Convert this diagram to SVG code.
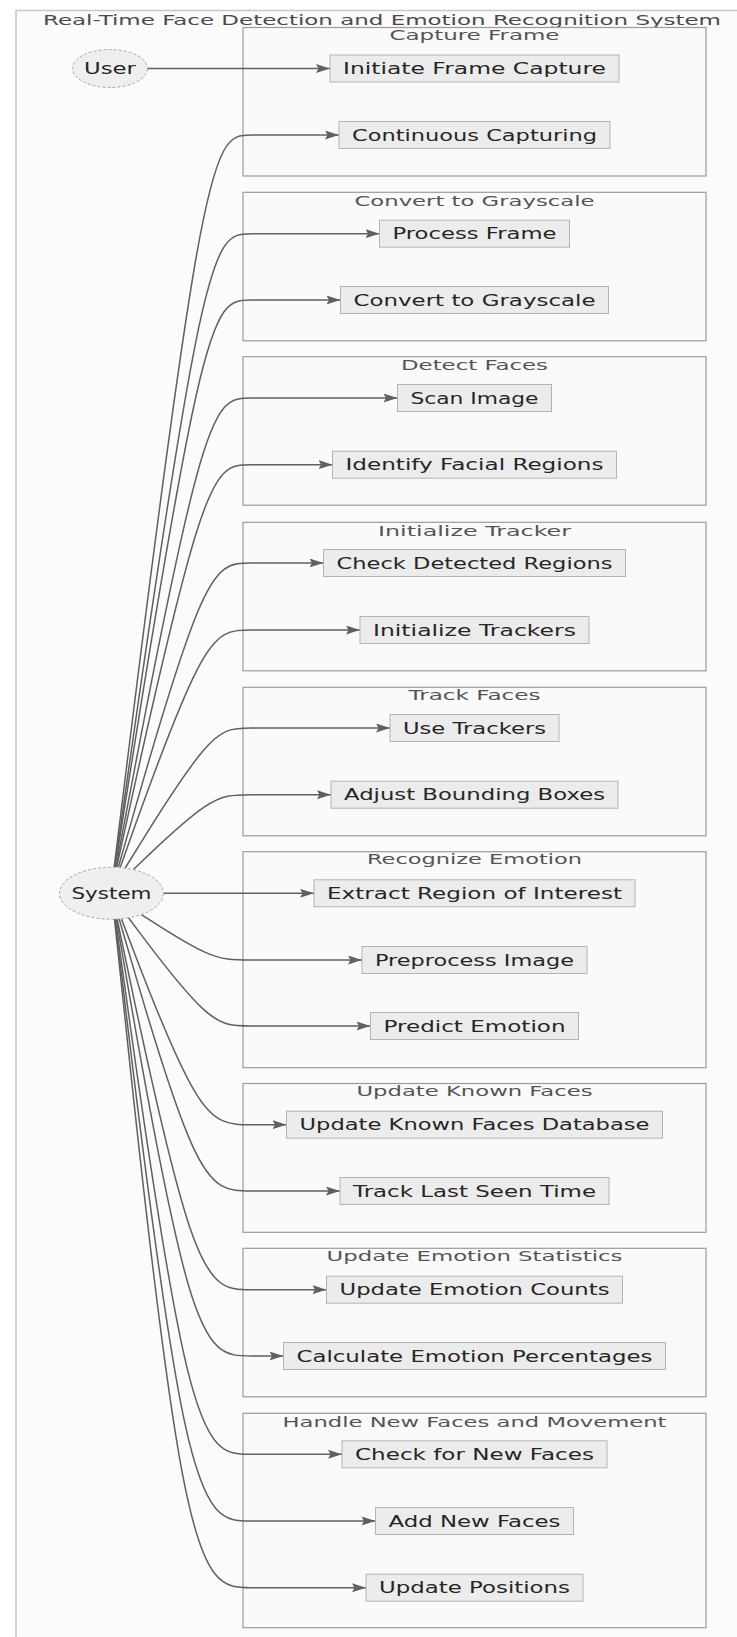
<svg xmlns="http://www.w3.org/2000/svg" width="737" height="1637" viewBox="0 0 737 1637">
  <defs>
    <marker id="arrow" markerUnits="userSpaceOnUse" markerWidth="15" markerHeight="10" refX="14" refY="4.5" orient="auto">
      <path d="M0,0 L14,4.5 L0,9 L2.5,4.5 z" fill="#606060"/>
    </marker>
    <style>
      text { font-family: "DejaVu Sans", "Liberation Sans", sans-serif; text-anchor: middle; }
      .frame { fill: #fbfbfb; stroke: #c8c8c8; stroke-width: 1.5; }
      .title { font-size: 14px; fill: #4a4a4a; }
      .cluster rect { fill: #fafafa; stroke: #9c9c9c; stroke-width: 1.2; }
      .cluster text { font-size: 14px; fill: #555; }
      .node rect { fill: #ececec; stroke: #b4b4b4; stroke-width: 1; }
      .node ellipse { fill: #efefef; stroke: #a8a8a8; stroke-width: 1; stroke-dasharray: 3 2; }
      .node text { font-size: 15px; fill: #262626; }
      .edges path { fill: none; stroke: #606060; stroke-width: 1.5; marker-end: url(#arrow); }
    </style>
  </defs>

  <rect width="737" height="1637" fill="#ffffff"/>

  <!-- outer system boundary -->
  <g id="system-boundary">
    <rect class="frame" x="16" y="10.5" width="740" height="1640"/>
    <text class="title" x="382" y="25.1" textLength="678" lengthAdjust="spacingAndGlyphs">Real-Time Face Detection and Emotion Recognition System</text>
  </g>

  <!-- subgraphs -->
  <g id="cluster-capture" class="cluster">
    <rect x="243" y="27.5" width="463" height="148.5"/>
    <text x="474.5" y="40.1" textLength="170" lengthAdjust="spacingAndGlyphs">Capture Frame</text>
  </g>
  <g id="cluster-grayscale" class="cluster">
    <rect x="243" y="192.3" width="463" height="148.5"/>
    <text x="474.5" y="205.8" textLength="240" lengthAdjust="spacingAndGlyphs">Convert to Grayscale</text>
  </g>
  <g id="cluster-detect" class="cluster">
    <rect x="243" y="356.7" width="463" height="148.5"/>
    <text x="474.5" y="370.1" textLength="147" lengthAdjust="spacingAndGlyphs">Detect Faces</text>
  </g>
  <g id="cluster-init" class="cluster">
    <rect x="243" y="522.3" width="463" height="148.5"/>
    <text x="474.5" y="535.8" textLength="193" lengthAdjust="spacingAndGlyphs">Initialize Tracker</text>
  </g>
  <g id="cluster-track" class="cluster">
    <rect x="243" y="687.3" width="463" height="148.5"/>
    <text x="474.5" y="700.1" textLength="132" lengthAdjust="spacingAndGlyphs">Track Faces</text>
  </g>
  <g id="cluster-emotion" class="cluster">
    <rect x="243" y="851.7" width="463" height="216"/>
    <text x="474.5" y="864.4" textLength="215" lengthAdjust="spacingAndGlyphs">Recognize Emotion</text>
  </g>
  <g id="cluster-known" class="cluster">
    <rect x="243" y="1083.5" width="463" height="148.8"/>
    <text x="474.5" y="1095.8" textLength="236" lengthAdjust="spacingAndGlyphs">Update Known Faces</text>
  </g>
  <g id="cluster-stats" class="cluster">
    <rect x="243" y="1248.3" width="463" height="148.5"/>
    <text x="474.5" y="1261.1" textLength="296" lengthAdjust="spacingAndGlyphs">Update Emotion Statistics</text>
  </g>
  <g id="cluster-new" class="cluster">
    <rect x="243" y="1413.3" width="463" height="214.4"/>
    <text x="474.5" y="1426.8" textLength="384" lengthAdjust="spacingAndGlyphs">Handle New Faces and Movement</text>
  </g>

  <!-- connectors -->
  <g id="edges" class="edges">
    <path d="M147.5,68.5 L330,68.5"/>
    <path d="M114.2,867 L129.3,745 C144.5,623 174.7,379 196.2,257 C217.7,135 230.3,135 252,135 L339,135"/>
    <path d="M114.7,867.1 L129.8,761.5 C144.8,656 174.9,444.8 196.3,339.3 C217.7,233.7 230.3,233.7 252,233.7 L379.5,233.7"/>
    <path d="M115.1,867.1 L130.1,772.6 C145.1,678.1 175,489 196.4,394.5 C217.7,300 230.3,300 252,300 L340.5,300"/>
    <path d="M115.9,867.1 L130.8,788.9 C145.6,710.7 175.3,554.4 196.5,476.2 C217.7,398 230.3,398 252,398 L397.5,398"/>
    <path d="M116.7,867.2 L131.4,800.1 C146.1,733 175.6,598.9 196.6,531.8 C217.7,464.7 230.3,464.7 252,464.7 L332.5,464.7"/>
    <path d="M118.3,867.3 L132.8,816.6 C147.2,765.9 176.1,664.4 196.9,613.7 C217.7,563 230.3,563 252,563 L323.5,563"/>
    <path d="M120.2,867.4 L134.3,827.8 C148.5,788.3 176.7,709.1 197.2,669.6 C217.7,630 230.3,630 252,630 L360,630"/>
    <path d="M125.2,868 L139.7,844.7 C154.1,821.3 183.1,774.7 202.7,751.3 C222.3,728 232.7,728 252,728 L390,728"/>
    <path d="M133.4,869.5 L146.5,857 C159.6,844.6 185.8,819.6 204.1,807.2 C222.3,794.7 232.7,794.7 252,794.7 L331,794.7"/>
    <path d="M163.5,893.3 L314,893.3"/>
    <path d="M140.9,914.3 L152.8,921.9 C164.6,929.5 188.3,944.8 205.3,952.4 C222.3,960 232.7,960 252,960 L362,960"/>
    <path d="M128.3,917.5 L141.9,935.6 C155.5,953.7 182.8,989.8 201.9,1007.9 C221,1026 232,1026 252,1026 L370.5,1026"/>
    <path d="M121.3,918.5 L134.4,952.9 C147.5,987.2 173.8,1056 194.1,1090.3 C214.3,1124.7 228.7,1124.7 252,1124.7 L286.5,1124.7"/>
    <path d="M119.1,918.7 L132.3,964.1 C145.4,1009.5 171.7,1100.2 192.4,1145.6 C213,1191 228,1191 252,1191 L340,1191"/>
    <path d="M117.1,918.8 L130.1,980.6 C143.1,1042.4 169,1166.1 190,1227.9 C211,1289.7 227,1289.7 252,1289.7 L326.5,1289.7"/>
    <path d="M116.3,918.9 L128.9,991.8 C141.5,1064.6 166.8,1210.3 187.9,1283.2 C209,1356 226,1356 252,1356 L283.5,1356"/>
    <path d="M115.3,918.9 L127.8,1008.1 C140.2,1097.4 165.1,1275.8 186.4,1365.1 C207.7,1454.3 225.3,1454.3 252,1454.3 L342,1454.3"/>
    <path d="M114.9,918.9 L126.9,1019.3 C138.9,1119.6 163,1320.3 184.3,1420.7 C205.7,1521 224.3,1521 252,1521 L375.5,1521"/>
    <path d="M114.5,918.9 L126.3,1030.4 C138,1141.8 161.5,1364.8 182.9,1476.2 C204.3,1587.7 223.7,1587.7 252,1587.7 L366,1587.7"/>
  </g>

  <!-- actors -->
  <g id="actor-user" class="node">
    <ellipse cx="110" cy="68.5" rx="37.5" ry="19"/>
    <text x="110" y="74" textLength="52" lengthAdjust="spacingAndGlyphs">User</text>
  </g>
  <g id="actor-system" class="node">
    <ellipse cx="111.5" cy="893.3" rx="52" ry="26"/>
    <text x="111.5" y="898.8" textLength="80" lengthAdjust="spacingAndGlyphs">System</text>
  </g>

  <!-- process steps -->
  <g id="n-initiate" class="node">
    <rect x="330" y="55" width="289" height="27"/>
    <text x="474.5" y="74" textLength="263" lengthAdjust="spacingAndGlyphs">Initiate Frame Capture</text>
  </g>
  <g id="n-continuous" class="node">
    <rect x="339" y="121.5" width="271" height="27"/>
    <text x="474.5" y="140.5" textLength="245" lengthAdjust="spacingAndGlyphs">Continuous Capturing</text>
  </g>
  <g id="n-process" class="node">
    <rect x="379.5" y="220.2" width="190" height="27"/>
    <text x="474.5" y="239.2" textLength="164" lengthAdjust="spacingAndGlyphs">Process Frame</text>
  </g>
  <g id="n-convert" class="node">
    <rect x="340.5" y="286.5" width="268" height="27"/>
    <text x="474.5" y="305.5" textLength="242" lengthAdjust="spacingAndGlyphs">Convert to Grayscale</text>
  </g>
  <g id="n-scan" class="node">
    <rect x="397.5" y="384.5" width="154" height="27"/>
    <text x="474.5" y="403.5" textLength="128" lengthAdjust="spacingAndGlyphs">Scan Image</text>
  </g>
  <g id="n-identify" class="node">
    <rect x="332.5" y="451.2" width="284" height="27"/>
    <text x="474.5" y="470.2" textLength="258" lengthAdjust="spacingAndGlyphs">Identify Facial Regions</text>
  </g>
  <g id="n-check" class="node">
    <rect x="323.5" y="549.5" width="302" height="27"/>
    <text x="474.5" y="568.5" textLength="276" lengthAdjust="spacingAndGlyphs">Check Detected Regions</text>
  </g>
  <g id="n-inittrack" class="node">
    <rect x="360" y="616.5" width="229" height="27"/>
    <text x="474.5" y="635.5" textLength="203" lengthAdjust="spacingAndGlyphs">Initialize Trackers</text>
  </g>
  <g id="n-use" class="node">
    <rect x="390" y="714.5" width="169" height="27"/>
    <text x="474.5" y="733.5" textLength="143" lengthAdjust="spacingAndGlyphs">Use Trackers</text>
  </g>
  <g id="n-adjust" class="node">
    <rect x="331" y="781.2" width="287" height="27"/>
    <text x="474.5" y="800.2" textLength="261" lengthAdjust="spacingAndGlyphs">Adjust Bounding Boxes</text>
  </g>
  <g id="n-extract" class="node">
    <rect x="314" y="879.8" width="321" height="27"/>
    <text x="474.5" y="898.8" textLength="295" lengthAdjust="spacingAndGlyphs">Extract Region of Interest</text>
  </g>
  <g id="n-preprocess" class="node">
    <rect x="362" y="946.5" width="225" height="27"/>
    <text x="474.5" y="965.5" textLength="199" lengthAdjust="spacingAndGlyphs">Preprocess Image</text>
  </g>
  <g id="n-predict" class="node">
    <rect x="370.5" y="1012.5" width="208" height="27"/>
    <text x="474.5" y="1031.5" textLength="182" lengthAdjust="spacingAndGlyphs">Predict Emotion</text>
  </g>
  <g id="n-knowndb" class="node">
    <rect x="286.5" y="1111.2" width="376" height="27"/>
    <text x="474.5" y="1130.2" textLength="350" lengthAdjust="spacingAndGlyphs">Update Known Faces Database</text>
  </g>
  <g id="n-lastseen" class="node">
    <rect x="340" y="1177.5" width="269" height="27"/>
    <text x="474.5" y="1196.5" textLength="243" lengthAdjust="spacingAndGlyphs">Track Last Seen Time</text>
  </g>
  <g id="n-counts" class="node">
    <rect x="326.5" y="1276.2" width="296" height="27"/>
    <text x="474.5" y="1295.2" textLength="270" lengthAdjust="spacingAndGlyphs">Update Emotion Counts</text>
  </g>
  <g id="n-percent" class="node">
    <rect x="283.5" y="1342.5" width="382" height="27"/>
    <text x="474.5" y="1361.5" textLength="356" lengthAdjust="spacingAndGlyphs">Calculate Emotion Percentages</text>
  </g>
  <g id="n-checknew" class="node">
    <rect x="342" y="1440.8" width="265" height="27"/>
    <text x="474.5" y="1459.8" textLength="239" lengthAdjust="spacingAndGlyphs">Check for New Faces</text>
  </g>
  <g id="n-addnew" class="node">
    <rect x="375.5" y="1507.5" width="198" height="27"/>
    <text x="474.5" y="1526.5" textLength="172" lengthAdjust="spacingAndGlyphs">Add New Faces</text>
  </g>
  <g id="n-positions" class="node">
    <rect x="366" y="1574.2" width="217" height="27"/>
    <text x="474.5" y="1593.2" textLength="191" lengthAdjust="spacingAndGlyphs">Update Positions</text>
  </g>
</svg>
